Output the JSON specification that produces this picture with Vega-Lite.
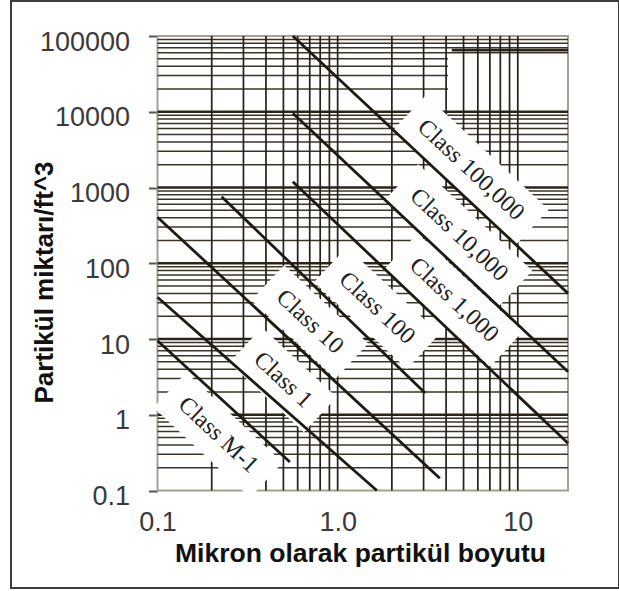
{
  "$schema": "https://vega.github.io/schema/vega-lite/v6.json",
  "width": 608,
  "height": 587,
  "autosize": {"type": "none"},
  "padding": {"left": 11, "top": 1, "right": 0, "bottom": 3},
  "background": "white",
  "config": {"view": {"stroke": "#3c3c3c", "strokeWidth": 2}},
  "datasets": {
    "hminor": [
      {"v": 0.2}, {"v": 0.3}, {"v": 0.4}, {"v": 0.5}, {"v": 0.6}, {"v": 0.7}, {"v": 0.8}, {"v": 0.9},
      {"v": 2}, {"v": 3}, {"v": 4}, {"v": 5}, {"v": 6}, {"v": 7}, {"v": 8}, {"v": 9},
      {"v": 20}, {"v": 30}, {"v": 40}, {"v": 50}, {"v": 60}, {"v": 70}, {"v": 80}, {"v": 90},
      {"v": 200}, {"v": 300}, {"v": 400}, {"v": 500}, {"v": 600}, {"v": 700}, {"v": 800}, {"v": 900},
      {"v": 2000}, {"v": 3000}, {"v": 4000}, {"v": 5000}, {"v": 6000}, {"v": 7000}, {"v": 8000}, {"v": 9000},
      {"v": 60000}, {"v": 70000}, {"v": 80000}, {"v": 90000}
    ],
    "hpartial": [
      {"v": 20000, "from": 0.1, "to": 4.1},
      {"v": 30000, "from": 0.1, "to": 4.1},
      {"v": 40000, "from": 0.1, "to": 4.1},
      {"v": 50000, "from": 0.1, "to": 4.1}
    ],
    "hmajor": [{"v": 1}, {"v": 10}, {"v": 100}, {"v": 1000}, {"v": 10000}],
    "vgrid": [
      {"s": 0.2}, {"s": 0.3}, {"s": 0.4}, {"s": 0.5}, {"s": 0.6}, {"s": 0.7}, {"s": 0.8}, {"s": 0.9},
      {"s": 1}, {"s": 2}, {"s": 3}, {"s": 4}, {"s": 5}, {"s": 6}, {"s": 7}, {"s": 8}, {"s": 9}, {"s": 10}
    ],
    "segments": [{"v": 65000, "from": 4.3, "to": 19}],
    "classes": [
      {"cls": "Class 100,000", "d": 0.564, "n": 100000},
      {"cls": "Class 100,000", "d": 19, "n": 40},
      {"cls": "Class 10,000", "d": 0.564, "n": 9550},
      {"cls": "Class 10,000", "d": 19, "n": 3.7},
      {"cls": "Class 1,000", "d": 0.564, "n": 1194},
      {"cls": "Class 1,000", "d": 19, "n": 0.42},
      {"cls": "Class 100", "d": 0.227, "n": 757},
      {"cls": "Class 100", "d": 3.06, "n": 1.94},
      {"cls": "Class 10", "d": 0.1, "n": 405},
      {"cls": "Class 10", "d": 3.69, "n": 0.145},
      {"cls": "Class 1", "d": 0.1, "n": 35.5},
      {"cls": "Class 1", "d": 1.65, "n": 0.1},
      {"cls": "Class M-1", "d": 0.1, "n": 9.5},
      {"cls": "Class M-1", "d": 0.543, "n": 0.238}
    ],
    "labels": [
      {"label": "Class 100,000", "d": 5.49, "n": 1702},
      {"label": "Class 10,000", "d": 4.71, "n": 236},
      {"label": "Class 1,000", "d": 4.42, "n": 32.7},
      {"label": "Class 100", "d": 1.65, "n": 25.6},
      {"label": "Class 10", "d": 0.70, "n": 16.8},
      {"label": "Class 1", "d": 0.497, "n": 2.88},
      {"label": "Class M-1", "d": 0.217, "n": 0.54}
    ]
  },
  "layer": [
    {
      "data": {"values": [{}]},
      "mark": {"type": "rect", "filled": false, "stroke": "#a5a08f", "strokeWidth": 2},
      "encoding": {
        "x": {"datum": 0.1, "type": "quantitative"},
        "x2": {"datum": 19},
        "y": {"datum": 0.1, "type": "quantitative"},
        "y2": {"datum": 100000}
      }
    },
    {
      "data": {"name": "hminor"},
      "mark": {"type": "rule", "stroke": "#3b3428", "strokeWidth": 1.5},
      "encoding": {
        "x": {"datum": 0.1, "type": "quantitative"},
        "x2": {"datum": 19},
        "y": {
          "field": "v", "type": "quantitative",
          "scale": {"type": "log", "domain": [0.1, 100000], "range": [489.5, 35], "nice": false},
          "axis": {
            "values": [0.1, 1, 10, 100, 1000, 10000, 100000], "format": "~g",
            "offset": -146.5, "domain": false, "grid": false,
            "ticks": true, "tickSize": 9, "tickColor": "#555555", "tickWidth": 2,
            "labelPadding": 19, "labelOffset": 6,
            "labelFont": "Liberation Sans", "labelFontSize": 27, "labelColor": "#3a3a3a",
            "title": "Partikül miktarı/ft^3",
            "titleFont": "Liberation Sans", "titleFontSize": 26, "titleFontWeight": "bold", "titleColor": "#111111",
            "titleX": -113, "titleY": 281, "titleBaseline": "middle", "titleAlign": "center", "titleAngle": 270
          }
        }
      }
    },
    {
      "data": {"name": "hpartial"},
      "mark": {"type": "rule", "stroke": "#3b3428", "strokeWidth": 1.5},
      "encoding": {
        "x": {"field": "from", "type": "quantitative"},
        "x2": {"field": "to"},
        "y": {"field": "v", "type": "quantitative"}
      }
    },
    {
      "data": {"name": "hmajor"},
      "mark": {"type": "rule", "stroke": "#2b2418", "strokeWidth": 2.6},
      "encoding": {
        "x": {"datum": 0.1, "type": "quantitative"},
        "x2": {"datum": 19},
        "y": {"field": "v", "type": "quantitative"}
      }
    },
    {
      "data": {"name": "segments"},
      "mark": {"type": "rule", "stroke": "#2b2418", "strokeWidth": 2.6},
      "encoding": {
        "x": {"field": "from", "type": "quantitative"},
        "x2": {"field": "to"},
        "y": {"field": "v", "type": "quantitative"}
      }
    },
    {
      "data": {"name": "vgrid"},
      "mark": {"type": "rule", "stroke": "#262015", "strokeWidth": 1.7},
      "encoding": {
        "x": {
          "field": "s", "type": "quantitative",
          "scale": {"type": "log", "domain": [0.1, 19], "range": [146.5, 557], "nice": false},
          "axis": {
            "values": [0.1, 1, 10], "format": "~g",
            "labelExpr": "datum.value == 1 ? '1.0' : datum.label",
            "offset": -97.5, "domain": false, "grid": false, "ticks": false,
            "labelPadding": 19, "labelFlush": false,
            "labelFont": "Liberation Sans", "labelFontSize": 27, "labelColor": "#3a3a3a",
            "title": "Mikron olarak partikül boyutu",
            "titleFont": "Liberation Sans", "titleFontSize": 26.5, "titleFontWeight": "bold", "titleColor": "#111111",
            "titleX": 349, "titleY": 63, "titleBaseline": "middle", "titleAlign": "center"
          }
        },
        "y": {"datum": 0.1, "type": "quantitative"},
        "y2": {"datum": 100000}
      }
    },
    {
      "data": {"name": "labels"},
      "mark": {"type": "point", "filled": true, "fill": "white", "opacity": 1, "strokeWidth": 0, "size": 10000, "angle": 43},
      "encoding": {
        "x": {"field": "d", "type": "quantitative"},
        "y": {"field": "n", "type": "quantitative"},
        "shape": {
          "field": "label", "type": "nominal", "legend": null,
          "scale": {
            "domain": ["Class 100,000", "Class 10,000", "Class 1,000", "Class 100", "Class 10", "Class 1", "Class M-1"],
            "range": [
              "M-1.68,-0.48L1.68,-0.48L1.68,0.48L-1.68,0.48Z",
              "M-1.56,-0.48L1.56,-0.48L1.56,0.48L-1.56,0.48Z",
              "M-1.44,-0.48L1.44,-0.48L1.44,0.48L-1.44,0.48Z",
              "M-1.27,-0.48L1.27,-0.48L1.27,0.48L-1.27,0.48Z",
              "M-1.15,-0.48L1.15,-0.48L1.15,0.48L-1.15,0.48Z",
              "M-1.02,-0.48L1.02,-0.48L1.02,0.48L-1.02,0.48Z",
              "M-1.32,-0.48L1.32,-0.48L1.32,0.48L-1.32,0.48Z"
            ]
          }
        }
      }
    },
    {
      "data": {"name": "classes"},
      "mark": {"type": "line", "stroke": "#1e1a12", "strokeWidth": 2.8},
      "encoding": {
        "x": {"field": "d", "type": "quantitative"},
        "y": {"field": "n", "type": "quantitative"},
        "detail": {"field": "cls", "type": "nominal"}
      }
    },
    {
      "data": {"name": "labels"},
      "mark": {"type": "text", "angle": 43, "font": "Liberation Serif", "fontSize": 24, "fill": "#222222", "align": "center", "baseline": "middle"},
      "encoding": {
        "x": {"field": "d", "type": "quantitative"},
        "y": {"field": "n", "type": "quantitative"},
        "text": {"field": "label", "type": "nominal"}
      }
    }
  ]
}
